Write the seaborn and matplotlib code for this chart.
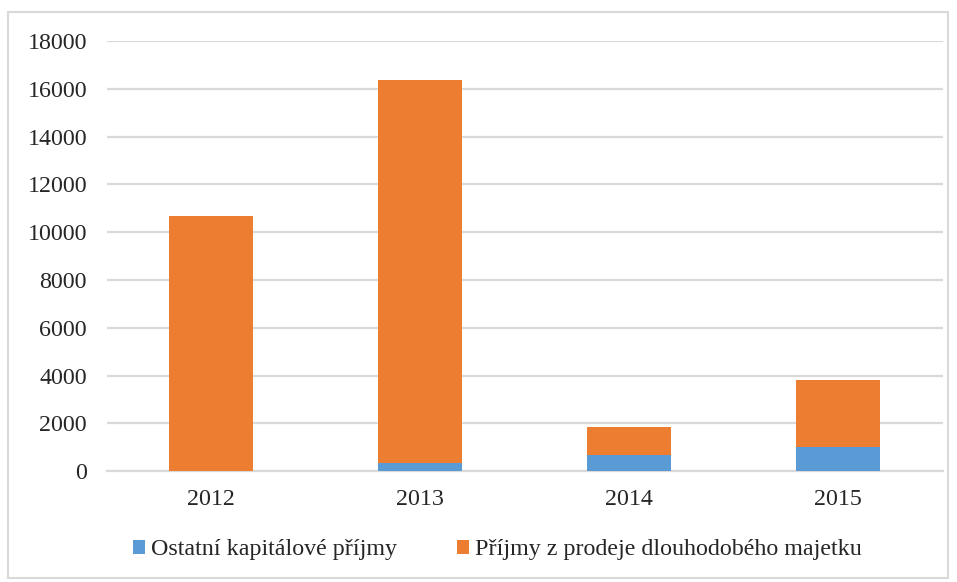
import matplotlib
matplotlib.use("Agg")
import matplotlib.pyplot as plt
import seaborn as sns
import pandas as pd
from matplotlib.patches import Rectangle, Patch

years = ["2012", "2013", "2014", "2015"]
ostatni = [0, 335, 680, 1000]
prodej = [10660, 16030, 1180, 2830]
labels = ["Ostatní kapitálové příjmy", "Příjmy z prodeje dlouhodobého majetku"]
yticks = [0, 2000, 4000, 6000, 8000, 10000, 12000, 14000, 16000, 18000]

blue = "#5B9BD5"
orange = "#ED7D31"

sns.set_theme(style="white")
plt.rcParams["font.family"] = ["Liberation Serif", "DejaVu Serif"]

df = pd.DataFrame({"year": years, "ostatni": ostatni, "prodej": prodej})
df["total"] = df["ostatni"] + df["prodej"]

fig = plt.figure(figsize=(9.57, 5.82), dpi=100)
ax = fig.add_axes([106.5 / 957, 1 - 471.3 / 582, (942.5 - 106.5) / 957, (471.3 - 41) / 582])

sns.barplot(data=df, x="year", y="total", color=orange, width=0.4, ax=ax,
            saturation=1, edgecolor="none", zorder=3)
sns.barplot(data=df, x="year", y="ostatni", color=blue, width=0.4, ax=ax,
            saturation=1, edgecolor="none", zorder=4)

fs = 17.3
ax.set_ylim(0, 18000)
ax.set_xlim(-0.5, 3.5)
ax.set_yticks(yticks)
ax.set_yticklabels([str(v) for v in yticks], fontsize=fs)
ax.set_xticklabels(years, fontsize=fs)
ax.set_xlabel("")
ax.set_ylabel("")
ax.yaxis.grid(True, color="#d9d9d9", linewidth=1.6, zorder=0)
ax.set_axisbelow(True)
for s in ["top", "right", "left"]:
    ax.spines[s].set_visible(False)
ax.spines["bottom"].set_color("#d9d9d9")
ax.spines["bottom"].set_linewidth(1.6)
ax.tick_params(axis="y", length=0, pad=14)
ax.tick_params(axis="x", length=0, pad=13)

handles = [Patch(facecolor=blue, edgecolor="none"), Patch(facecolor=orange, edgecolor="none")]
fig.legend(handles, labels, loc="center", bbox_to_anchor=(497 / 957, 1 - 550 / 582), ncol=2,
           frameon=False, fontsize=fs, handlelength=0.5, handleheight=0.5,
           handletextpad=0.25, columnspacing=2.5)

fig.patches.append(Rectangle((8 / 957, 1 - 578 / 582), 940 / 957, 566 / 582,
                             transform=fig.transFigure, fill=False,
                             edgecolor="#d9d9d9", linewidth=1.5))

fig.savefig("out.png", dpi=100)
